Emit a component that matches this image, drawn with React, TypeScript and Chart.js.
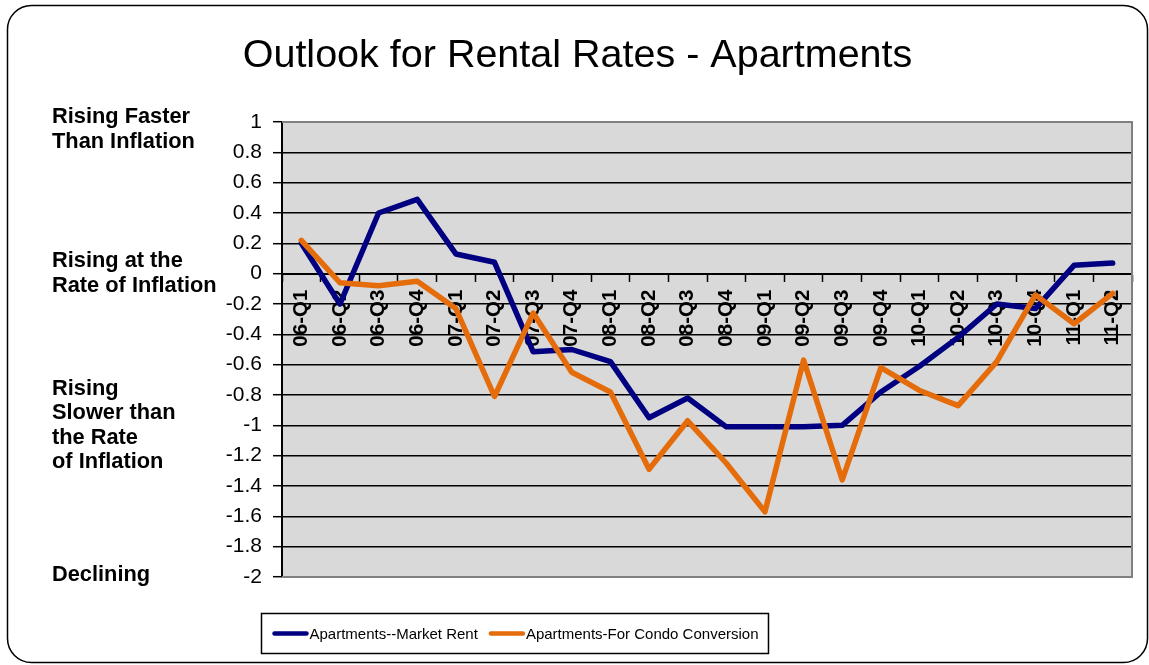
import React, { useEffect, useRef } from "react";
import { Chart, registerables } from "chart.js";

Chart.register(...registerables);

const TITLE = "Outlook for Rental Rates - Apartments";

const categories = [
  "06-Q1", "06-Q2", "06-Q3", "06-Q4",
  "07-Q1", "07-Q2", "07-Q3", "07-Q4",
  "08-Q1", "08-Q2", "08-Q3", "08-Q4",
  "09-Q1", "09-Q2", "09-Q3", "09-Q4",
  "10-Q1", "10-Q2", "10-Q3", "10-Q4",
  "11-Q1", "11-Q2",
];

const marketRent = [
  0.2, -0.2, 0.4, 0.49, 0.13, 0.075, -0.515, -0.5, -0.58, -0.95, -0.82,
  -1.01, -1.01, -1.01, -1.0, -0.78, -0.61, -0.42, -0.2, -0.23, 0.055, 0.07,
];

const condoConversion = [
  0.22, -0.06, -0.08, -0.05, -0.23, -0.81, -0.26, -0.65, -0.78, -1.29, -0.97,
  -1.25, -1.57, -0.57, -1.36, -0.62, -0.77, -0.87, -0.58, -0.14, -0.33, -0.13,
];

const seriesNames = ["Apartments--Market Rent", "Apartments-For Condo Conversion"];
const seriesColors = ["#000080", "#E46C0A"];

const yMin = -2;
const yMax = 1;
const yStep = 0.2;

// Descriptive labels on the left, anchored to y values
const sideLabelLines = [
  ["Rising Faster", "Than Inflation"],
  ["Rising at the", "Rate of Inflation"],
  ["Rising", "Slower than", "the Rate", "of Inflation"],
  ["Declining"],
];
const sideLabelAnchors = [0.95, 0, -1, -1.99];

const FONT = "'Liberation Sans', Arial, sans-serif";

export default function App() {
  const ref = useRef<HTMLCanvasElement | null>(null);

  useEffect(() => {
    const canvas = ref.current;
    if (!canvas) return;

    const decorPlugin = {
      id: "decor",
      beforeDraw(chart: any) {
        const { ctx, chartArea: a, width, height } = chart;
        ctx.save();
        ctx.fillStyle = "#ffffff";
        ctx.fillRect(0, 0, width, height);
        ctx.fillStyle = "#D9D9D9";
        ctx.fillRect(a.left, a.top, a.right - a.left, a.bottom - a.top);
        ctx.restore();
      },
      beforeDatasetsDraw(chart: any) {
        const { ctx, chartArea: a } = chart;
        ctx.save();
        ctx.strokeStyle = "#808080";
        ctx.lineWidth = 2;
        ctx.beginPath();
        ctx.moveTo(a.left, a.top);
        ctx.lineTo(a.right, a.top);
        ctx.lineTo(a.right, a.bottom);
        ctx.lineTo(a.left, a.bottom);
        ctx.stroke();
        ctx.restore();
      },
      afterDraw(chart: any) {
        const { ctx, width, height } = chart;
        const yScale = chart.scales.y;
        ctx.save();
        // outer rounded border
        const x0 = 7.5, y0 = 5.5, x1 = width - 1.5, y1 = height - 2.5, r = 24;
        ctx.strokeStyle = "#000";
        ctx.lineWidth = 1.5;
        ctx.beginPath();
        ctx.moveTo(x0 + r, y0);
        ctx.lineTo(x1 - r, y0);
        ctx.arcTo(x1, y0, x1, y0 + r, r);
        ctx.lineTo(x1, y1 - r);
        ctx.arcTo(x1, y1, x1 - r, y1, r);
        ctx.lineTo(x0 + r, y1);
        ctx.arcTo(x0, y1, x0, y1 - r, r);
        ctx.lineTo(x0, y0 + r);
        ctx.arcTo(x0, y0, x0 + r, y0, r);
        ctx.closePath();
        ctx.stroke();

        // title
        ctx.fillStyle = "#000";
        ctx.font = `39.5px ${FONT}`;
        ctx.textAlign = "center";
        ctx.textBaseline = "middle";
        ctx.fillText(TITLE, 577.5, 56);

        // side labels
        ctx.font = `bold 21.8px ${FONT}`;
        ctx.textAlign = "left";
        const lh = 24.5;
        sideLabelLines.forEach((lines, gi) => {
          const cy = yScale.getPixelForValue(sideLabelAnchors[gi]);
          const start = cy - ((lines.length - 1) * lh) / 2;
          lines.forEach((t, li) => ctx.fillText(t, 52, start + li * lh));
        });

        // legend
        ctx.font = `15px ${FONT}`;
        ctx.textBaseline = "middle";
        const boxLeft = 261.5, boxTop = 613.5, boxH = 40;
        const cy = boxTop + boxH / 2;
        let x = boxLeft + 11;
        const datasets = chart.data.datasets;
        datasets.forEach((ds: any, i: number) => {
          ctx.strokeStyle = ds.borderColor;
          ctx.lineWidth = 4.5;
          ctx.lineCap = "round";
          ctx.beginPath();
          ctx.moveTo(x + 2, cy);
          ctx.lineTo(x + 34, cy);
          ctx.stroke();
          x += 37;
          ctx.fillStyle = "#000";
          ctx.fillText(ds.label, x, cy + 1);
          x += ctx.measureText(ds.label).width;
          if (i < datasets.length - 1) x += 11;
        });
        const boxRight = x + 10;
        ctx.strokeStyle = "#000";
        ctx.lineWidth = 1.5;
        ctx.lineCap = "butt";
        ctx.strokeRect(boxLeft, boxTop, boxRight - boxLeft, boxH);
        ctx.restore();
      },
    };

    const chart = new Chart(canvas, {
      type: "line",
      data: {
        labels: categories,
        datasets: [
          {
            label: seriesNames[0],
            data: marketRent,
            borderColor: seriesColors[0],
            backgroundColor: seriesColors[0],
            borderWidth: 5.5,
            pointRadius: 0,
            tension: 0,
            borderJoinStyle: "round",
            borderCapStyle: "round",
            order: 1,
          },
          {
            label: seriesNames[1],
            data: condoConversion,
            borderColor: seriesColors[1],
            backgroundColor: seriesColors[1],
            borderWidth: 5.5,
            pointRadius: 0,
            tension: 0,
            borderJoinStyle: "round",
            borderCapStyle: "round",
            order: 0,
          },
        ],
      },
      options: {
        responsive: false,
        animation: false,
        devicePixelRatio: 1,
        layout: { padding: { left: 0, top: 122, right: 17, bottom: 88 } },
        plugins: {
          legend: { display: false },
          title: { display: false },
          tooltip: { enabled: false },
        },
        scales: {
          x: {
            type: "category",
            position: { y: 0 } as any,
            offset: true,
            afterFit: (s: any) => {
              s.height = 0;
            },
            grid: {
              offset: true,
              drawOnChartArea: false,
              drawTicks: true,
              tickLength: 7,
              color: "#000",
              tickColor: "#000",
              tickWidth: 1.5,
            },
            border: { display: true, color: "#000", width: 2 },
            ticks: {
              autoSkip: false,
              minRotation: 90,
              maxRotation: 90,
              padding: 9,
              color: "#000",
              font: { family: FONT, size: 20.5, weight: "bold" },
            },
          },
          y: {
            min: yMin,
            max: yMax,
            afterFit: (s: any) => {
              s.width = 282;
            },
            grid: {
              color: (c: any) =>
                c.tick && (c.tick.value === yMax || c.tick.value === yMin) ? "#808080" : "#000",
              lineWidth: 1.4,
              tickLength: 9,
              tickColor: "#000",
              tickWidth: 1.5,
              drawTicks: true,
            },
            border: { display: true, color: "#000", width: 2 },
            ticks: {
              stepSize: yStep,
              padding: 11,
              color: "#000",
              font: { family: FONT, size: 21 },
              callback: (v: any) => String(Math.round(Number(v) * 10) / 10),
            },
          },
        },
      },
      plugins: [decorPlugin],
    } as any);

    return () => chart.destroy();
  }, []);

  return (
    <div style={{ position: "fixed", left: 0, top: 0, width: 1149, height: 665, background: "#fff" }}>
      <canvas ref={ref} width={1149} height={665} style={{ display: "block" }} />
    </div>
  );
}
